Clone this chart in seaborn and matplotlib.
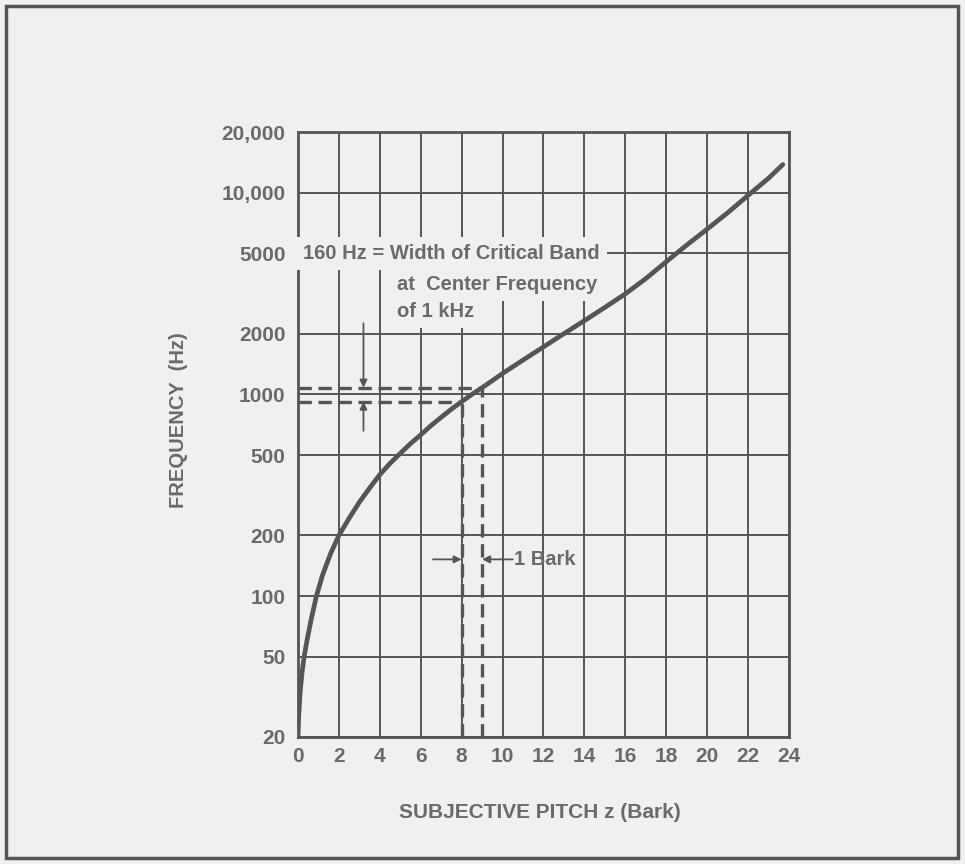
import matplotlib
matplotlib.use("Agg")
import matplotlib.pyplot as plt
from matplotlib.patches import Rectangle
import seaborn as sns
import pandas as pd

# critical-band rate (Bark) vs frequency
bark = [0, 0.03, 0.1, 0.2, 0.3, 0.45, 0.65, 0.9, 1.2, 1.6, 2.0, 2.5, 3,
        3.5, 4, 4.5, 5, 5.5, 6, 6.5, 7, 7.5, 8, 8.5, 9, 9.5, 10, 11, 12,
        13, 14, 15, 16, 17, 18, 19, 20, 21, 22, 23, 23.7]
freq = [20, 25, 33, 42, 50, 61, 77, 100, 127, 163, 200, 243, 292, 343, 400,
        455, 510, 570, 630, 700, 770, 845, 920, 1000, 1080, 1170, 1270,
        1480, 1720, 2000, 2320, 2700, 3150, 3750, 4550, 5500, 6600, 7950,
        9700, 11800, 13800]

x_ticks = list(range(0, 25, 2))
y_ticks = [20, 50, 100, 200, 500, 1000, 2000, 5000, 10000, 20000]
y_tick_labels = ["20", "50", "100", "200", "500", "1000", "2000", "5000",
                 "10,000", "20,000"]

# band around 1 kHz
band_lo_z, band_hi_z = 8, 9
band_lo_f, band_hi_f = 920, 1080

BG = "#f0f0f0"
INK = "#555555"
TXT = "#6a6a6a"

sns.set_theme(style="white")
plt.rcParams["font.family"] = ["Liberation Sans", "DejaVu Sans"]

fig = plt.figure(figsize=(9.65, 8.64), dpi=100, facecolor=BG)
ax = fig.add_axes([0.3088, 0.1470, 0.5088, 0.7002], facecolor=BG)

df = pd.DataFrame({"z": bark, "f": freq})
sns.lineplot(data=df, x="z", y="f", ax=ax, color=INK, lw=3.4, zorder=4,
             sort=False)

ax.set_yscale("log")
ax.set_xlim(0, 24)
ax.set_ylim(20, 20000)
ax.set_xticks(x_ticks)
ax.set_xticklabels([str(t) for t in x_ticks])
ax.set_yticks(y_ticks)
ax.set_yticklabels(y_tick_labels)
ax.minorticks_off()
ax.tick_params(length=0, labelsize=15, labelcolor=TXT)
ax.tick_params(axis="y", pad=9)
ax.tick_params(axis="x", pad=7)
for lab in ax.get_xticklabels() + ax.get_yticklabels():
    lab.set_fontweight("bold")
ax.grid(True, color=INK, lw=1.4, zorder=1)
for s in ax.spines.values():
    s.set_color(INK)
    s.set_linewidth(2)
ax.set_xlabel("")
ax.set_ylabel("")

# dashed lines marking the critical band at 1 kHz
dash = dict(color=INK, lw=2.4, ls=(0, (4, 2)), zorder=3)
ax.plot([0, band_hi_z], [band_hi_f, band_hi_f], **dash)
ax.plot([0, band_lo_z], [band_lo_f, band_lo_f], **dash)
ax.plot([band_lo_z, band_lo_z], [20, band_lo_f], **dash)
ax.plot([band_hi_z, band_hi_z], [20, band_hi_f], **dash)

arr = dict(arrowstyle="-|>", color=INK, lw=1.3, mutation_scale=11,
           shrinkA=0, shrinkB=0)
ax.annotate("", xy=(3.2, band_hi_f), xytext=(3.2, 2250), arrowprops=arr, zorder=5)
ax.annotate("", xy=(3.2, band_lo_f), xytext=(3.2, 660), arrowprops=arr, zorder=5)
ax.annotate("", xy=(band_lo_z, 152), xytext=(6.6, 152), arrowprops=arr, zorder=5)
ax.annotate("", xy=(band_hi_z, 152), xytext=(10.5, 152), arrowprops=arr, zorder=5)
ax.text(10.55, 152, "1 Bark", fontsize=14.5, fontweight="bold", color=TXT,
        ha="left", va="center", zorder=5)

box = dict(facecolor=BG, edgecolor="none", pad=5)
ax.text(0.25, 5000, "160 Hz = Width of Critical Band", fontsize=14.5,
        fontweight="bold", color=TXT, ha="left", va="center", bbox=box, zorder=5)
ax.text(4.85, 3520, "at  Center Frequency", fontsize=14.5, fontweight="bold",
        color=TXT, ha="left", va="center", bbox=box, zorder=5)
ax.text(4.85, 2580, "of 1 kHz", fontsize=14.5, fontweight="bold", color=TXT,
        ha="left", va="center", bbox=box, zorder=5)

fig.text(178 / 965, 1 - 420 / 864, "FREQUENCY  (Hz)", rotation=90,
         fontsize=14.5, fontweight="bold", color=TXT, ha="center", va="center")
fig.text(540 / 965, 1 - 812 / 864, "SUBJECTIVE PITCH z (Bark)",
         fontsize=15, fontweight="bold", color=TXT, ha="center", va="center")

# outer frame of the figure panel
fig.patches.append(Rectangle((6 / 965, 6 / 864), 952 / 965, 852 / 864,
                             transform=fig.transFigure, fill=False,
                             edgecolor=INK, lw=2.5))

fig.savefig("out.png", dpi=100, facecolor=BG)
